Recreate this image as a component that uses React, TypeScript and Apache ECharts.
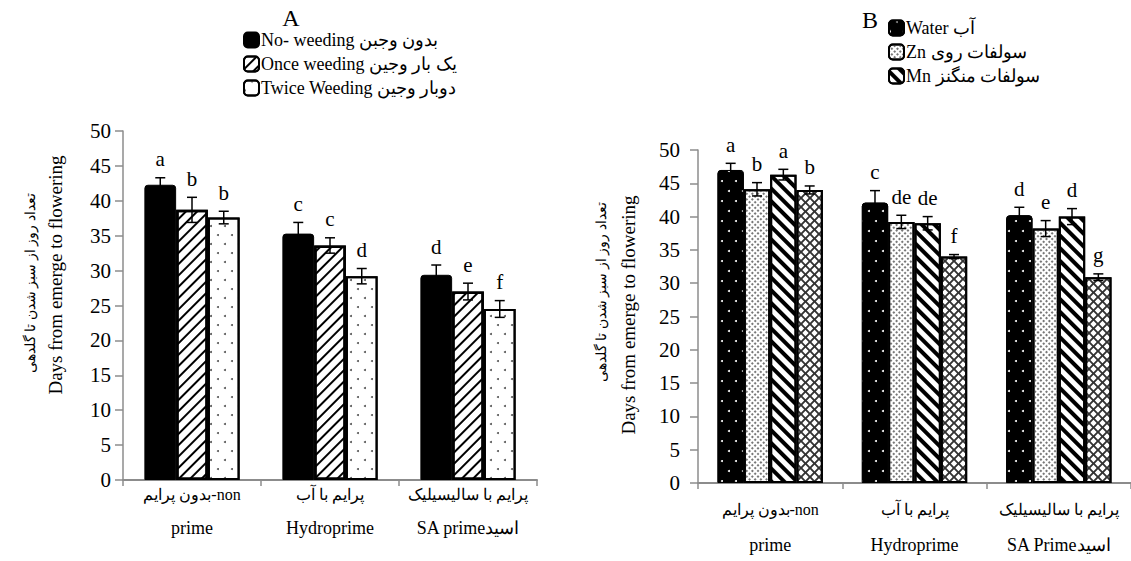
import React, { useEffect, useRef } from 'react';
import * as echarts from 'echarts';

// ---------- Data ----------
const categoriesA = ['بدون پرایم-non\nprime', 'پرایم با آب\nHydroprime', 'پرایم با سالیسیلیک\nSA primeاسید'];
const categoriesB = ['بدون پرایم-non\nprime', 'پرایم با آب\nHydroprime', 'پرایم با سالیسیلیک\nSA Primeاسید'];

const namesA = ['No- weeding بدون وجبن', 'Once weeding یک بار وجین', 'Twice Weeding دوبار وجین'];
const noWeeding = [42.3, 35.3, 29.4];
const onceWeeding = [38.7, 33.6, 27.0];
const twiceWeeding = [37.6, 29.2, 24.5];
const noWeedingErr = [1.0, 1.6, 1.4];
const onceWeedingErr = [1.8, 1.1, 1.2];
const twiceWeedingErr = [0.9, 1.1, 1.2];
const noWeedingLetters = ['a', 'c', 'd'];
const onceWeedingLetters = ['b', 'c', 'e'];
const twiceWeedingLetters = ['b', 'd', 'f'];

const namesB = ['Water آب', 'Zn سولفات روی', 'Mn سولفات منگنز', 'Zn + Mn'];
const water = [47.0, 42.1, 40.2];
const zn = [44.1, 39.2, 38.2];
const mn = [46.3, 39.0, 40.0];
const znMn = [44.0, 34.0, 30.9];
const waterErr = [1.0, 1.8, 1.2];
const znErr = [1.0, 1.0, 1.2];
const mnErr = [0.8, 1.0, 1.2];
const znMnErr = [0.6, 0.3, 0.5];
const waterLetters = ['a', 'c', 'd'];
const znLetters = ['b', 'de', 'e'];
const mnLetters = ['a', 'de', 'd'];
const znMnLetters = ['b', 'f', 'g'];

const yTicks = [0, 5, 10, 15, 20, 25, 30, 35, 40, 45, 50];

const serif = '"Liberation Serif", "Times New Roman", "DejaVu Serif", serif';

const crossPath =
  'path://M0,0 L1.5,0 L5,3.5 L8.5,0 L10,0 L10,1.5 L6.5,5 L10,8.5 L10,10 L8.5,10 L5,6.5 L1.5,10 L0,10 L0,8.5 L3.5,5 L0,1.5 Z';

function errSeries(name: string, values: number[], errs: number[], letters: string[], idx: number, n: number, gap: number, axis: number) {
  return {
    type: 'custom',
    name: name + ' err',
    xAxisIndex: axis,
    yAxisIndex: axis,
    z: 10,
    clip: false,
    data: values.map((v, i) => [i, v, errs[i]]),
    renderItem: (params: any, api: any) => {
      const cat = api.value(0);
      const v = api.value(1);
      const e = api.value(2);
      const top = api.coord([cat, v + e]);
      const bot = api.coord([cat, v - e]);
      const catW = api.size([1, 0])[0];
      const total = catW * (1 - gap);
      const barW = total / n;
      const x = top[0] - total / 2 + barW * (idx + 0.5);
      const cap = 5;
      const ls = { stroke: '#000', lineWidth: 1.5 };
      return {
        type: 'group',
        children: [
          { type: 'line', shape: { x1: x, y1: top[1], x2: x, y2: bot[1] }, style: ls },
          { type: 'line', shape: { x1: x - cap, y1: top[1], x2: x + cap, y2: top[1] }, style: ls },
          { type: 'line', shape: { x1: x - cap, y1: bot[1], x2: x + cap, y2: bot[1] }, style: ls },
          {
            type: 'text',
            x: x,
            y: top[1] - 8,
            style: {
              text: letters[params.dataIndex],
              font: '21px ' + serif,
              fill: '#000',
              textAlign: 'center',
              textVerticalAlign: 'bottom',
            },
          },
        ],
      };
    },
  };
}

function xAxisCfg(cats: string[], grid: number, margin: number, lh: number) {
  return {
    type: 'category',
    gridIndex: grid,
    data: cats,
    axisLine: { lineStyle: { color: '#8c8c8c', width: 2 } },
    axisTick: { show: true, length: 6, lineStyle: { color: '#8c8c8c', width: 1.5 } },
    axisLabel: {
      margin: margin,
      interval: 0,
      formatter: (v: string) => {
        const [a, b] = v.split('\n');
        return '{fa|' + a + '}\n{en|' + b + '}';
      },
      rich: {
        fa: { fontSize: 16, fontFamily: serif, color: '#000', lineHeight: lh },
        en: { fontSize: 18, fontFamily: serif, color: '#000', lineHeight: lh },
      },
    },
  };
}

function yAxisCfg(grid: number, margin: number) {
  return {
    type: 'value',
    gridIndex: grid,
    min: yTicks[0],
    max: yTicks[yTicks.length - 1],
    interval: yTicks[1] - yTicks[0],
    axisLine: { show: true, lineStyle: { color: '#8c8c8c', width: 1.5 } },
    axisTick: { show: true, length: 8, lineStyle: { color: '#8c8c8c', width: 1.5 } },
    splitLine: { show: false },
    axisLabel: { margin: margin, fontSize: 21, fontFamily: serif, color: '#000' },
  };
}

export default function App() {
  const ref = useRef<HTMLDivElement>(null);
  useEffect(() => {
    if (!ref.current) return;
    const chart = echarts.init(ref.current, undefined, { renderer: 'svg' });
    const gapA = 0.31;
    const gapB = 0.27;

    const barBase = (name: string, data: number[], axis: number, itemStyle: any, gap: number) => ({
      type: 'bar',
      name,
      xAxisIndex: axis,
      yAxisIndex: axis,
      data,
      barGap: '0%',
      barCategoryGap: Math.round(gap * 100) + '%',
      itemStyle,
    });

    const styleA1 = { color: '#000', borderColor: '#000', borderWidth: 1, borderRadius: [3, 3, 0, 0] };
    const styleA2 = {
      color: '#fff', borderColor: '#000', borderWidth: 2.5,
      decal: { symbol: 'rect', symbolSize: 1, color: '#000', dashArrayX: [1, 0], dashArrayY: [1.6, 6], rotation: -Math.PI / 4 },
    };
    const styleA3 = {
      color: '#fff', borderColor: '#000', borderWidth: 2,
      decal: { symbol: 'circle', symbolSize: 1, color: '#555', dashArrayX: [[2, 12], [0, 7, 2, 5]], dashArrayY: [2, 7] },
    };
    const styleB1 = {
      color: '#000', borderColor: '#000', borderWidth: 1, borderRadius: [3, 3, 0, 0],
      decal: { symbol: 'circle', symbolSize: 1, color: '#fff', dashArrayX: [[2, 12], [0, 7, 2, 5]], dashArrayY: [2, 8] },
    };
    const styleB2 = {
      color: '#fff', borderColor: '#000', borderWidth: 2,
      decal: { symbol: 'rect', symbolSize: 1, color: '#777', dashArrayX: [[2, 2]], dashArrayY: [2, 2], rotation: Math.PI / 4 },
    };
    const styleB3 = {
      color: '#fff', borderColor: '#000', borderWidth: 2,
      decal: { symbol: 'rect', symbolSize: 1, color: '#000', dashArrayX: [1, 0], dashArrayY: [4, 5], rotation: Math.PI / 4 },
    };
    const styleB4 = {
      color: '#fff', borderColor: '#000', borderWidth: 2,
      decal: { symbol: crossPath, symbolSize: 1, symbolKeepAspect: false, color: '#333', dashArrayX: [9, 0], dashArrayY: [9, 0] },
    };

    const option: any = {
      animation: false,
      backgroundColor: '#fff',
      grid: [
        { left: 123, top: 131, width: 414, height: 349 },
        { left: 698, top: 150, width: 442, height: 333 },
      ],
      xAxis: [xAxisCfg(categoriesA, 0, -3, 34), xAxisCfg(categoriesB, 1, 8, 36)],
      yAxis: [yAxisCfg(0, 12), yAxisCfg(1, 18)],
      legend: [
        {
          data: namesA,
          orient: 'vertical',
          left: 243,
          top: 31,
          itemWidth: 15,
          itemHeight: 15,
          itemGap: 6,
          padding: 0,
          icon: 'roundRect',
          textStyle: { fontSize: 18, fontFamily: serif, color: '#000', padding: [0, 0, 0, -3] },
        },
        {
          data: namesB.slice(0, 3),
          orient: 'vertical',
          left: 888,
          top: 19,
          itemWidth: 15,
          itemHeight: 15,
          itemGap: 6,
          padding: 0,
          icon: 'roundRect',
          textStyle: { fontSize: 18, fontFamily: serif, color: '#000', padding: [0, 0, 0, -3] },
        },
      ],
      graphic: [
        { type: 'text', x: 291, y: 18, style: { text: 'A', font: '24px ' + serif, fill: '#000', textAlign: 'center', textVerticalAlign: 'middle' } },
        { type: 'text', x: 870, y: 20, style: { text: 'B', font: '24px ' + serif, fill: '#000', textAlign: 'center', textVerticalAlign: 'middle' } },
        { type: 'text', x: 55, y: 275, rotation: Math.PI / 2, style: { text: 'Days from emerge to flowering', font: '19px ' + serif, fill: '#000', textAlign: 'center', textVerticalAlign: 'middle' } },
        { type: 'text', x: 30, y: 283, rotation: Math.PI / 2, style: { text: 'تعداد روز از سبز شدن تا گلدهی', font: '14px ' + serif, fill: '#000', textAlign: 'center', textVerticalAlign: 'middle' } },
        { type: 'text', x: 628, y: 315, rotation: Math.PI / 2, style: { text: 'Days from emerge to flowering', font: '19px ' + serif, fill: '#000', textAlign: 'center', textVerticalAlign: 'middle' } },
        { type: 'text', x: 601, y: 292, rotation: Math.PI / 2, style: { text: 'تعداد روز از سبز شدن تا گلدهی', font: '14px ' + serif, fill: '#000', textAlign: 'center', textVerticalAlign: 'middle' } },
      ],
      series: [
        barBase(namesA[0], noWeeding, 0, styleA1, gapA),
        barBase(namesA[1], onceWeeding, 0, styleA2, gapA),
        barBase(namesA[2], twiceWeeding, 0, styleA3, gapA),
        errSeries(namesA[0], noWeeding, noWeedingErr, noWeedingLetters, 0, 3, gapA, 0),
        errSeries(namesA[1], onceWeeding, onceWeedingErr, onceWeedingLetters, 1, 3, gapA, 0),
        errSeries(namesA[2], twiceWeeding, twiceWeedingErr, twiceWeedingLetters, 2, 3, gapA, 0),
        barBase(namesB[0], water, 1, styleB1, gapB),
        barBase(namesB[1], zn, 1, styleB2, gapB),
        barBase(namesB[2], mn, 1, styleB3, gapB),
        barBase(namesB[3], znMn, 1, styleB4, gapB),
        errSeries(namesB[0], water, waterErr, waterLetters, 0, 4, gapB, 1),
        errSeries(namesB[1], zn, znErr, znLetters, 1, 4, gapB, 1),
        errSeries(namesB[2], mn, mnErr, mnLetters, 2, 4, gapB, 1),
        errSeries(namesB[3], znMn, znMnErr, znMnLetters, 3, 4, gapB, 1),
      ],
    };
    chart.setOption(option);
    return () => chart.dispose();
  }, []);
  return <div ref={ref} style={{ position: 'fixed', left: 0, top: 0, width: 1131, height: 561 }} />;
}
